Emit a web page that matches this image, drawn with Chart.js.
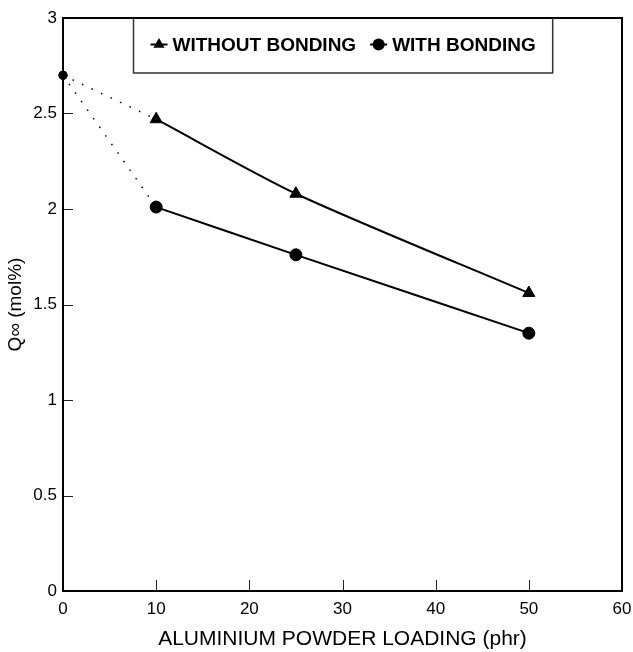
<!DOCTYPE html>
<html>
<head>
<meta charset="utf-8">
<script src="https://cdn.jsdelivr.net/npm/chart.js@4.4.1/dist/chart.umd.min.js"></script>
<style>
  html, body { margin: 0; padding: 0; background: #fff; }
  #wrap { width: 633px; height: 652px; }
</style>
</head>
<body>
<div id="wrap"><canvas id="c" width="633" height="652"></canvas></div>
<script>
// ---- data ----
const loadings = [0, 10, 25, 50];                       // phr
const withoutBonding = [2.70, 2.47, 2.08, 1.56];        // Q∞ (mol%)
const withBonding = [2.70, 2.01, 1.76, 1.35];           // Q∞ (mol%)
const seriesLabels = ['WITHOUT BONDING', 'WITH BONDING'];
const xTickLabels = ['0', '10', '20', '30', '40', '50', '60'];
const yTickLabels = ['0', '0.5', '1', '1.5', '2', '2.5', '3'];
const xTitle = 'ALUMINIUM POWDER LOADING (phr)';
const yTitle = 'Q\u221E (mol%)';

const FONT = '"Liberation Sans", Arial, Helvetica, sans-serif';

function pts(xs, ys, from, to) {
  const out = [];
  for (let i = from; i <= to; i++) out.push({ x: xs[i], y: ys[i] });
  return out;
}

const datasets = [
  {
    label: seriesLabels[0],
    data: pts(loadings, withoutBonding, 1, loadings.length - 1),
    borderColor: '#000', backgroundColor: '#000',
    borderWidth: 2, pointStyle: 'triangle', pointRadius: 7,
    pointBorderWidth: 1, tension: 0.25, showLine: true, clip: false, legendMark: 'triangle'
  },
  {
    label: seriesLabels[1],
    data: pts(loadings, withBonding, 1, loadings.length - 1),
    borderColor: '#000', backgroundColor: '#000',
    borderWidth: 2, pointStyle: 'circle', pointRadius: 6,
    pointBorderWidth: 1, tension: 0.25, showLine: true, clip: false, legendMark: 'circle'
  },
  {
    label: 'dotted-1',
    data: pts(loadings, withoutBonding, 0, 1),
    borderColor: '#000', backgroundColor: '#000',
    borderWidth: 1.5, borderDash: [1.5, 9], pointStyle: 'circle',
    pointRadius: [4.5, 0], pointBorderWidth: 0, tension: 0, showLine: true, clip: false
  },
  {
    label: 'dotted-2',
    data: pts(loadings, withBonding, 0, 1),
    borderColor: '#000', backgroundColor: '#000',
    borderWidth: 1.5, borderDash: [1.5, 9], pointStyle: 'circle',
    pointRadius: [4.5, 0], pointBorderWidth: 0, tension: 0, showLine: true, clip: false
  }
];

// frame, inner ticks and boxed legend
const framePlugin = {
  id: 'frame',
  afterDraw(chart) {
    const { ctx, chartArea: a, scales } = chart;
    ctx.save();
    // inner tick marks
    ctx.strokeStyle = '#222';
    ctx.lineWidth = 1;
    scales.y.ticks.forEach(t => {
      if (t.value <= scales.y.min || t.value >= scales.y.max) return;
      const p = Math.round(scales.y.getPixelForValue(t.value)) + 0.5;
      ctx.beginPath(); ctx.moveTo(a.left, p); ctx.lineTo(a.left + 10, p); ctx.stroke();
    });
    scales.x.ticks.forEach(t => {
      if (t.value <= scales.x.min || t.value >= scales.x.max) return;
      const p = Math.round(scales.x.getPixelForValue(t.value)) + 0.5;
      ctx.beginPath(); ctx.moveTo(p, a.bottom); ctx.lineTo(p, a.bottom - 11); ctx.stroke();
    });
    // frame
    ctx.strokeStyle = '#000';
    ctx.lineWidth = 2;
    ctx.strokeRect(a.left, a.top, a.right - a.left, a.bottom - a.top);

    // legend box
    const items = chart.data.datasets.filter(d => d.legendMark);
    ctx.font = 'bold 19px ' + FONT;
    const sample = 17, gapMark = 5, gapItem = 14, padX = 17;
    let w = padX * 2;
    items.forEach((d, i) => {
      w += sample + gapMark + ctx.measureText(d.label).width;
      if (i < items.length - 1) w += gapItem;
    });
    const h = 55;
    const bx = Math.round((a.left + a.right) / 2 - w / 2) + 0.5;
    const by = a.top;
    ctx.fillStyle = '#fff';
    ctx.fillRect(bx, by + 1, w, h - 1);
    ctx.strokeStyle = '#333';
    ctx.lineWidth = 1.5;
    ctx.beginPath();
    ctx.moveTo(bx, by); ctx.lineTo(bx, by + h); ctx.lineTo(bx + w, by + h); ctx.lineTo(bx + w, by);
    ctx.stroke();
    let x = bx + padX;
    const cy = by + h / 2;
    items.forEach(d => {
      ctx.strokeStyle = '#000';
      ctx.lineWidth = 2;
      ctx.beginPath(); ctx.moveTo(x, cy - 1); ctx.lineTo(x + sample, cy - 1); ctx.stroke();
      ctx.fillStyle = '#000';
      const mx = x + sample / 2, my = cy - 1;
      if (d.legendMark === 'triangle') {
        const r = 6.5;
        ctx.beginPath();
        ctx.moveTo(mx, my - r);
        ctx.lineTo(mx + r * 0.866, my + r / 2);
        ctx.lineTo(mx - r * 0.866, my + r / 2);
        ctx.closePath(); ctx.fill();
      } else {
        ctx.beginPath(); ctx.arc(mx, my, 6, 0, Math.PI * 2); ctx.fill();
      }
      x += sample + gapMark;
      ctx.fillStyle = '#000';
      ctx.textAlign = 'left';
      ctx.textBaseline = 'middle';
      ctx.fillText(d.label, x, cy + 0.5);
      x += ctx.measureText(d.label).width + gapItem;
    });
    ctx.restore();
  }
};

new Chart(document.getElementById('c'), {
  type: 'scatter',
  data: { datasets },
  plugins: [framePlugin],
  options: {
    responsive: false,
    animation: false,
    devicePixelRatio: 1,
    layout: { padding: { left: 0, right: 11, top: 18, bottom: 0 } },
    plugins: { legend: { display: false }, tooltip: { enabled: false } },
    scales: {
      x: {
        type: 'linear', min: 0, max: 60,
        grid: { display: false, drawTicks: false },
        border: { display: false },
        ticks: {
          stepSize: 10, padding: 8, color: '#000',
          font: { family: FONT, size: 17 },
          callback: (v, i) => xTickLabels[i]
        },
        title: {
          display: true, text: xTitle, color: '#000',
          font: { family: FONT, size: 21 },
          padding: { top: 0, bottom: 0 }
        },
        afterFit: s => { s.height = 61; s.paddingLeft = 0; s.paddingRight = 0; }
      },
      y: {
        type: 'linear', min: 0, max: 3,
        grid: { display: false, drawTicks: false },
        border: { display: false },
        ticks: {
          stepSize: 0.5, padding: 6, color: '#000',
          font: { family: FONT, size: 17 },
          callback: (v, i) => yTickLabels[i]
        },
        title: {
          display: true, text: yTitle, color: '#000',
          font: { family: FONT, size: 19 },
          padding: { top: 4, bottom: 0 }
        },
        afterFit: s => { s.width = 63; s.paddingTop = 0; s.paddingBottom = 0; }
      }
    }
  }
});
</script>
</body>
</html>
